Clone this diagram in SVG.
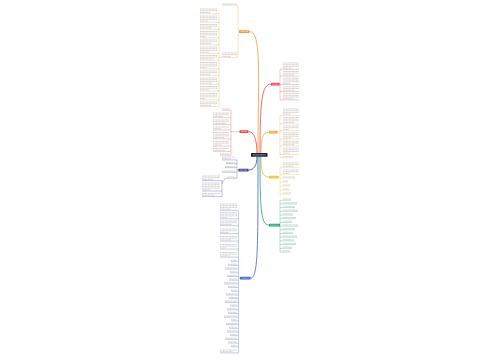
<svg xmlns="http://www.w3.org/2000/svg" width="500" height="360" viewBox="0 0 500 360">
<style>
.t{fill:none;stroke:#c2c2c2;stroke-width:.8;stroke-dasharray:1.1 .35}
.c{fill:none;stroke-width:.8}
.u{fill:none;stroke-width:.45;stroke-opacity:.7}
.nt{fill:none;stroke:#fff;stroke-opacity:.75;stroke-width:.8;stroke-dasharray:1 .3}
.o1{stroke:#ef9a3c}.r1{stroke:#dc4b50}.o2{stroke:#f2a23a}.y1{stroke:#e0c43a}.g1{stroke:#22a077}.r2{stroke:#e04848}.n1{stroke:#3b3f8f}.b1{stroke:#3d5fc4}
</style>
<rect width="500" height="360" fill="#fff"/>
<g id="connectors">
<path class="c o1" d="M258 153C258 80 262 31 249.5 31.6"/>
<path class="c r1" d="M260 153C260 100 262 84.1 271 84.1"/>
<path class="c o2" d="M261 153C261 140 262 132.1 269 132.1"/>
<path class="c y1" d="M261 156.8C261 170 262 177.1 269 177.1"/>
<path class="c g1" d="M260 156.8C260 210 261 225.1 269 225.1"/>
<path class="c r2" d="M257 153C257 140 254 131.6 248.5 131.6"/>
<path class="c n1" d="M257 156.8C257 165 254 170.1 248.5 170.1"/>
<path class="c b1" d="M258 156.8C258 250 258 278.1 250.5 278.1"/>
<path class="u o1" d="M239 31.6C237 31.6 239 5.2 237 5.2M239 31.6C237 31.6 239 57.6 237 57.6M222 5.2H237M222 57.6H237M219 13.6V106.6M222 57.6H219M200 13.6H219M200 22.3H219M200 29.1H219M200 37.8H219M200 44.6H219M200 53.3H219M200 60.1H219M200 68.8H219M200 75.6H219M200 84.3H219M200 91.1H219M200 99.8H219M200 106.6H219"/>
<path class="u r1" d="M279.5 84.1H280M280 69.3V99.9M280 69.3H299M280 76.1H299M280 84.6H299M280 91.4H299M280 99.9H299"/>
<path class="u o2" d="M277.5 132.1H280M280 115.3V157.8M280 115.3H299M280 123.8H299M280 130.6H299M280 139.1H299M280 145.9H299M280 154.4H299M280 157.8H293"/>
<path class="u y1" d="M278.5 177.1H280M280 167.6V194.2M280 167.6H299M280 174.6H299M280 178.2H295M280 182.2H288M280 186.2H290M280 190.2H289M280 194.2H291"/>
<path class="u g1" d="M280 200.2V252M280 200.2H291M280 203.9H297M280 207.6H295M280 211.3H298M280 215H293M280 218.7H296M280 222.4H292M280 226.1H298M280 229.8H295M280 233.5H293M280 237.2H297M280 240.9H294M280 244.6H296M280 248.3H292M280 252H290"/>
<path class="u r2" d="M239.5 131.6H231M231 110.2V155.2M222 110.2H231M213 117.6H231M213 124.6H231M213 129.9H231M213 138.8H231M213 146.1H231M213 151.4H231M220 155.2H231"/>
<path class="u n1" d="M238.5 170.1H237M237 159.9V178.2M222 159.9H237M226 163.7H237M225 167.7H237M222 172.2H237M227 178.2H237M227 178.2C224 178.2 223 182 222 184M222 180.6V196.4M202 180.6H222M202 191H222M202 196.4H222"/>
<path class="u b1" d="M240 278.1H238.5M238.5 210.3V352.9M220 210.3H238.5M220 218.8H238.5M220 225.6H238.5M220 233.6H238.5M220 241.1H238.5M220 249.1H238.5M220 257.1H238.5M231 261.7H238.5M228 265.4H238.5M225 269.1H238.5M230 272.8H238.5M227 276.5H238.5M229 280.2H238.5M224 283.9H238.5M228 287.6H238.5M231 291.3H238.5M226 295H238.5M229 298.7H238.5M225 302.4H238.5M230 306.1H238.5M227 309.8H238.5M228 313.5H238.5M224 317.2H238.5M231 320.9H238.5M226 324.6H238.5M229 328.3H238.5M227 332H238.5M230 335.7H238.5M225 339.4H238.5M228 343.1H238.5M231 346.8H238.5M220 352.9H238.5"/>
</g>
<g id="center">
<rect x="251" y="153" width="16.5" height="3.8" rx=".5" fill="#1d2141"/>
<path class="nt" d="M253 154.9h12.5"/>
</g>
<g id="branch-top-orange">
<rect x="239" y="30.3" width="10.5" height="2.6" rx=".5" fill="#ef9a3c"/>
<path class="nt" d="M240.5 31.6h7.5"/>
<path class="t" d="M222 4h15M222 53h15M222 54.7h15M222 56.4h9M200 9h17M200 10.7h17M200 12.4h10M200 16h17M200 17.7h17M200 19.4h17M200 21.1h8M200 24.5h17M200 26.2h17M200 27.9h12M200 31.5h17M200 33.2h17M200 34.9h17M200 36.6h6M200 40h17M200 41.7h17M200 43.4h11M200 47h17M200 48.7h17M200 50.4h17M200 52.1h9M200 55.5h17M200 57.2h17M200 58.9h13M200 62.5h17M200 64.2h17M200 65.9h17M200 67.6h7M200 71h17M200 72.7h17M200 74.4h10M200 78h17M200 79.7h17M200 81.4h17M200 83.1h12M200 86.5h17M200 88.2h17M200 89.9h9M200 93.5h17M200 95.2h17M200 96.9h17M200 98.6h5M200 102h17M200 103.7h17M200 105.4h11"/>
</g>
<g id="branch-right-red">
<rect x="271" y="82.8" width="8.5" height="2.6" rx=".5" fill="#dc4b50"/>
<path class="nt" d="M272.3 84.1h6"/>
<path class="t" d="M283 63h16M283 64.7h16M283 66.4h16M283 68.1h9M283 71.5h16M283 73.2h16M283 74.9h11M283 78.3h16M283 80h16M283 81.7h16M283 83.4h7M283 86.8h16M283 88.5h16M283 90.2h12M283 93.6h16M283 95.3h16M283 97h16M283 98.7h10"/>
</g>
<g id="branch-right-orange">
<rect x="269" y="130.8" width="8.5" height="2.6" rx=".5" fill="#f2a23a"/>
<path class="nt" d="M270.3 132.1h6"/>
<path class="t" d="M283 109h16M283 110.7h16M283 112.4h16M283 114.1h8M283 117.5h16M283 119.2h16M283 120.9h16M283 122.6h11M283 126h16M283 127.7h16M283 129.4h6M283 132.8h16M283 134.5h16M283 136.2h16M283 137.9h9M283 141.3h16M283 143h16M283 144.7h12M283 148.1h16M283 149.8h16M283 151.5h16M283 153.2h7M283 156.6h10"/>
</g>
<g id="branch-right-yellow">
<rect x="269" y="175.8" width="9.5" height="2.6" rx=".5" fill="#e0c43a"/>
<path class="nt" d="M270.3 177.1h7"/>
<path class="t" d="M283 163h16M283 164.7h16M283 166.4h10M283 170h16M283 171.7h16M283 173.4h6M283 177h12M283 181h5M283 185h7M283 189h6M283 193h8"/>
</g>
<g id="branch-right-teal">
<rect x="269" y="223.8" width="11" height="2.6" rx=".5" fill="#22a077"/>
<path class="nt" d="M270.3 225.1h8.4"/>
<path class="t" d="M283 199h8M283 202.7h14M283 206.4h12M283 210.1h15M283 213.8h10M283 217.5h13M283 221.2h9M283 224.9h15M283 228.6h12M283 232.3h10M283 236h14M283 239.7h11M283 243.4h13M283 247.1h9M283 250.8h7"/>
</g>
<g id="branch-left-red">
<rect x="239.5" y="130.3" width="9" height="2.6" rx=".5" fill="#e04848"/>
<path class="nt" d="M240.8 131.6h6.4"/>
<path class="t" d="M222 109h7M213 113h16M213 114.7h16M213 116.4h10M213 120h16M213 121.7h16M213 123.4h13M213 127h16M213 128.7h8M213 132.5h16M213 134.2h16M213 135.9h16M213 137.6h11M213 141.5h16M213 143.2h16M213 144.9h9M213 148.5h16M213 150.2h12M220 154h9"/>
</g>
<g id="branch-left-navy">
<rect x="238.5" y="168.8" width="10" height="2.6" rx=".5" fill="#3b3f8f"/>
<path class="nt" d="M239.8 170.1h7.4"/>
<path class="t" d="M222 157h13M222 158.7h9M226 162.5h9M225 166.5h10M222 171h13M227 177h8M202 176h18M202 177.7h18M202 179.4h11M202 183h18M202 184.7h18M202 186.4h18M202 188.1h18M202 189.8h8M202 193.5h18M202 195.2h13"/>
</g>
<g id="branch-left-blue">
<rect x="240" y="276.8" width="10.5" height="2.6" rx=".5" fill="#3d5fc4"/>
<path class="nt" d="M241.3 278.1h7.9"/>
<path class="t" d="M220 204h17M220 205.7h17M220 207.4h17M220 209.1h10M220 212.5h17M220 214.2h17M220 215.9h17M220 217.6h7M220 221h17M220 222.7h17M220 224.4h12M220 229h17M220 230.7h17M220 232.4h9M220 236.5h17M220 238.2h17M220 239.9h11M220 244.5h17M220 246.2h17M220 247.9h6M220 252.5h17M220 254.2h17M220 255.9h10M231 260.5h6M228 264.2h9M225 267.9h12M230 271.6h7M227 275.3h10M229 279h8M224 282.7h13M228 286.4h9M231 290.1h6M226 293.8h11M229 297.5h8M225 301.2h12M230 304.9h7M227 308.6h10M228 312.3h9M224 316h13M231 319.7h6M226 323.4h11M229 327.1h8M227 330.8h10M230 334.5h7M225 338.2h12M228 341.9h9M231 345.6h6M220 350h17M220 351.7h13"/>
</g>
</svg>
